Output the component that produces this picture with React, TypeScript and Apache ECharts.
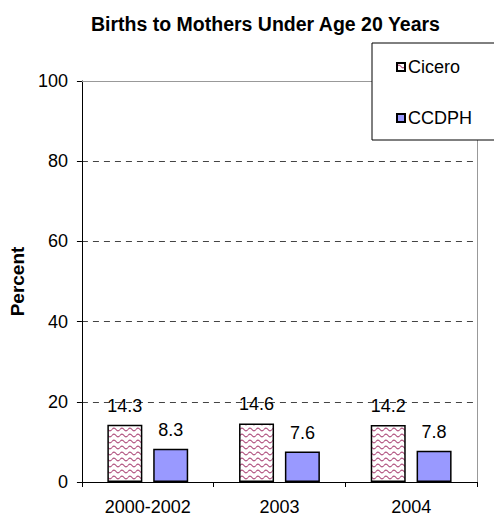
import React, { useEffect, useRef } from "react";
import * as echarts from "echarts";

const categories = ["2000-2002", "2003", "2004"];
const seriesNames = ["Cicero", "CCDPH"];
const ciceroValues = [14.3, 14.6, 14.2];
const ccdphValues = [8.3, 7.6, 7.8];
const titleText = "Births to Mothers Under Age 20 Years";
const yAxisTitle = "Percent";

const FONT = "'Liberation Sans', Arial, Helvetica, sans-serif";

const waveSvg =
  "<svg xmlns='http://www.w3.org/2000/svg' width='8' height='6'>" +
  "<rect width='8' height='6' fill='#ffffff'/>" +
  "<path d='M0 3.5 Q2 0.8 4 3.5 T8 3.5' stroke='#b0507e' stroke-width='1.1' fill='none'/>" +
  "</svg>";
const waveUrl = "data:image/svg+xml;charset=utf-8," + encodeURIComponent(waveSvg);

export default function App() {
  const ref = useRef<HTMLDivElement>(null);
  useEffect(() => {
    if (!ref.current) return;
    const chart = echarts.init(ref.current, null, { renderer: "svg" });
    const labelCfg = {
      show: true,
      position: "top" as const,
      distance: 10,
      fontSize: 18,
      fontFamily: FONT,
      color: "#000",
      formatter: (p: any) => Number(p.value).toFixed(1),
    };
    chart.setOption({
      animation: false,
      backgroundColor: "#fff",
      title: {
        text: titleText,
        left: 86,
        top: 9,
        textStyle: { fontSize: 19.5, fontWeight: "bold", fontFamily: FONT, color: "#000" },
      },
      legend: {
        orient: "vertical",
        left: 372,
        top: 43,
        padding: [15, 60, 13, 24],
        itemGap: 33,
        itemWidth: 8,
        itemHeight: 8,
        icon: "rect",
        borderColor: "#000",
        borderWidth: 1,
        backgroundColor: "#fff",
        data: seriesNames,
        textStyle: { fontSize: 18, fontFamily: FONT, color: "#000", padding: [0, 0, 0, -2] },
      },
      grid: { left: 74, right: 17, top: 81, bottom: 39, containLabel: false },
      xAxis: [
        {
          type: "category",
          data: categories,
          axisLine: { show: true, lineStyle: { color: "#000", width: 1 } },
          axisTick: { show: true, length: 5, alignWithLabel: false, lineStyle: { color: "#000" } },
          axisLabel: { fontSize: 18, fontFamily: FONT, color: "#000", margin: 16 },
        },
        {
          type: "category",
          data: categories,
          position: "top",
          axisLine: { show: true, onZero: false, lineStyle: { color: "#999", width: 1 } },
          axisTick: { show: false },
          axisLabel: { show: false },
        },
      ],
      yAxis: [
        {
          type: "value",
          min: 0,
          max: 100,
          interval: 20,
          name: yAxisTitle,
          nameLocation: "middle",
          nameRotate: 90,
          nameGap: 54,
          nameTextStyle: { fontSize: 19, fontWeight: "bold", fontFamily: FONT, color: "#000" },
          axisLine: { show: true, lineStyle: { color: "#000", width: 1 } },
          axisTick: { show: true, length: 5, lineStyle: { color: "#000" } },
          axisLabel: { fontSize: 18, fontFamily: FONT, color: "#000", margin: 14 },
          splitLine: { show: true, lineStyle: { color: "#444", type: [6, 5], width: 1 } },
        },
        {
          type: "value",
          min: 0,
          max: 100,
          interval: 20,
          position: "right",
          axisLine: { show: true, onZero: false, lineStyle: { color: "#999", width: 1 } },
          axisTick: { show: false },
          axisLabel: { show: false },
          splitLine: { show: false },
        },
      ],
      series: [
        {
          name: seriesNames[0],
          type: "bar",
          data: ciceroValues,
          barWidth: 35,
          barGap: "31%",
          itemStyle: {
            color: { image: waveUrl, repeat: "repeat", imageWidth: 8, imageHeight: 6 } as any,
            borderColor: "#000",
            borderWidth: 1.5,
          },
          label: labelCfg,
        },
        {
          name: seriesNames[1],
          type: "bar",
          data: ccdphValues,
          barWidth: 35,
          itemStyle: { color: "#9999ff", borderColor: "#000", borderWidth: 1.5 },
          label: labelCfg,
        },
      ],
    });
    return () => chart.dispose();
  }, []);
  return (
    <div
      ref={ref}
      style={{ position: "absolute", left: 0, top: 0, width: 494, height: 521, background: "#fff" }}
    />
  );
}
